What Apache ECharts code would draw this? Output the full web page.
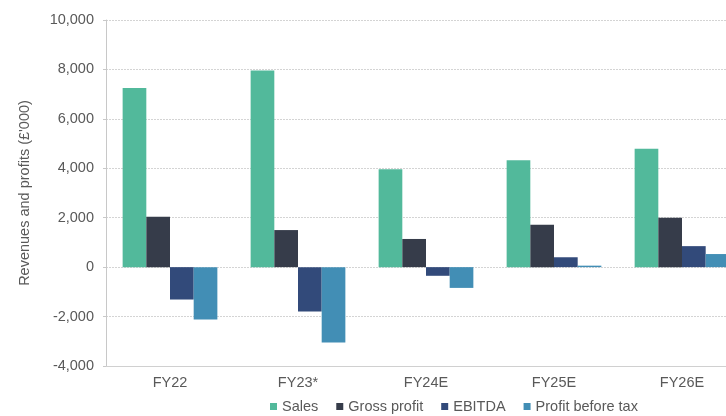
<!DOCTYPE html>
<html>
<head>
<meta charset="utf-8">
<script src="https://cdn.jsdelivr.net/npm/echarts@6/dist/echarts.min.js"></script>
<style>
  html, body { margin: 0; padding: 0; background: #fff; overflow: hidden; }
  /* wider than the window: the last category is cut off at the right, as in the reference */
  #chart { width: 746px; height: 416px; }
</style>
</head>
<body>
<div id="chart"></div>
<script>
// data (£'000)
var years = ['FY22', 'FY23*', 'FY24E', 'FY25E', 'FY26E'];
var sales = [7250, 7960, 3960, 4330, 4790];
var grossProfit = [2040, 1500, 1140, 1720, 2000];
var ebitda = [-1310, -1790, -350, 400, 850];
var pbt = [-2120, -3050, -840, 60, 530];

var seriesNames = ['Sales', 'Gross profit', 'EBITDA', 'Profit before tax'];
var colors = ['#52b99b', '#363c4a', '#324a7a', '#428eb5'];

var chart = echarts.init(document.getElementById('chart'));

function bar(name, data, color) {
    return {
        name: name,
        type: 'bar',
        data: data,
        barGap: '0%',
        barCategoryGap: '26%',
        itemStyle: { color: color }
    };
}

var font = 'Liberation Sans, Arial, sans-serif';
var fs = 14.5;

chart.setOption({
    animation: false,
    color: colors,
    textStyle: { fontFamily: font },
    grid: { left: 106, top: 20, bottom: 50, right: 0 },
    legend: {
        data: seriesNames,
        left: 270,
        top: 399,
        padding: 0,
        icon: 'rect',
        itemWidth: 7,
        itemHeight: 7,
        itemGap: 18,
        textStyle: { color: '#595959', fontSize: fs, fontFamily: font }
    },
    xAxis: {
        type: 'category',
        data: years,
        axisLine: { onZero: false, lineStyle: { color: '#d0d0d0' } },
        axisTick: { show: false },
        axisLabel: { color: '#595959', fontSize: fs, margin: 9 }
    },
    yAxis: {
        type: 'value',
        min: -4000,
        max: 10000,
        interval: 2000,
        name: "Revenues and profits (£'000)",
        nameLocation: 'middle',
        nameGap: 74,
        nameTextStyle: { color: '#595959', fontSize: fs },
        axisLine: { show: true, lineStyle: { color: '#c8c8c8' } },
        axisTick: { show: true, length: 3, lineStyle: { color: '#c8c8c8' } },
        axisLabel: {
            color: '#595959',
            fontSize: fs,
            margin: 12,
            formatter: function (v) { return v.toLocaleString('en-GB'); }
        },
        splitLine: { lineStyle: { color: '#d4d4d4', type: [2, 1] } }
    },
    series: [
        bar(seriesNames[0], sales, colors[0]),
        bar(seriesNames[1], grossProfit, colors[1]),
        bar(seriesNames[2], ebitda, colors[2]),
        bar(seriesNames[3], pbt, colors[3])
    ]
});
</script>
</body>
</html>
